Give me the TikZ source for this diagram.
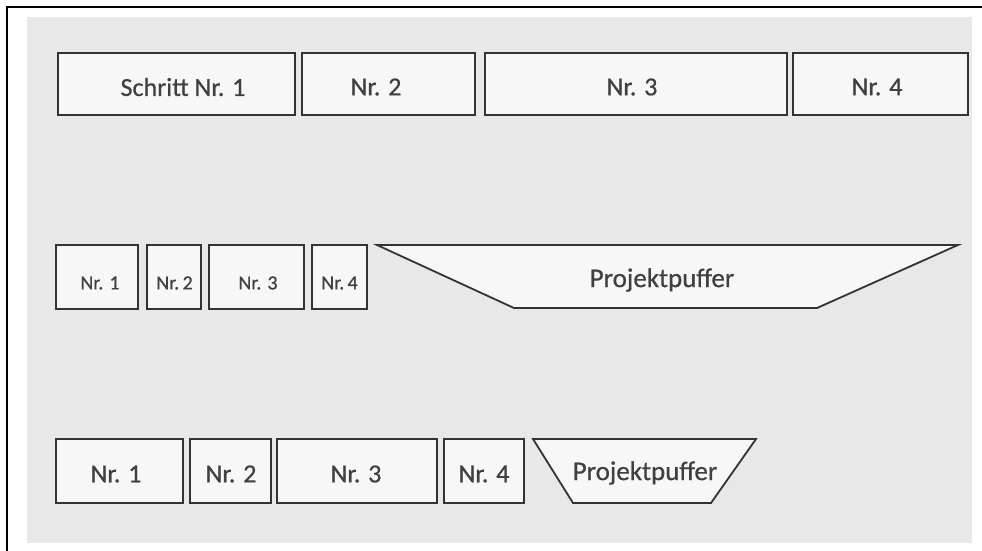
\documentclass[tikz,border=0pt]{standalone}
\usepackage{fontspec}
\setmainfont[FakeBold=0.6]{Carlito}
\definecolor{bg}{HTML}{E8E8E8}
\definecolor{boxfill}{HTML}{F7F7F7}
\definecolor{ink}{HTML}{333333}
\definecolor{txt}{HTML}{404040}
\begin{document}
\begin{tikzpicture}[x=1pt,y=-1pt,
  stepbox/.style={draw=ink, line width=1.8pt, fill=boxfill, inner sep=0pt, text=txt},
  big/.style={font=\fontsize{26}{28}\selectfont},
  small/.style={font=\fontsize{20}{22}\selectfont},
  lbl/.style={text=txt, inner sep=0pt},
  buffer/.style={draw=ink, line width=1.8pt, fill=boxfill, line join=miter},
  btext/.style={text=txt, inner sep=0pt, font=\fontsize{27}{29}\selectfont}]
\useasboundingbox (0,0) rectangle (982,551);
% frame and background
\fill[bg] (27,17) rectangle (972,543);
\draw[black, line width=2pt] (7,551) -- (7,7) -- (982,7);
% row 1
\node[stepbox, minimum width=237pt, minimum height=62pt] (s1) at (176.5,84) {};
\node[stepbox, minimum width=173pt, minimum height=62pt] (s2) at (388.5,84) {};
\node[stepbox, minimum width=302pt, minimum height=62pt] (s3) at (636,84) {};
\node[stepbox, minimum width=175pt, minimum height=62pt] (s4) at (880.5,84) {};
\node[lbl, big] (t1) at (183,87) {Schritt Nr. 1};
\node[lbl, big] (t2) at (376,87) {Nr. 2};
\node[lbl, big] (t3) at (632,87) {Nr. 3};
\node[lbl, big] (t4) at (877,87) {Nr. 4};
% row 2
\node[stepbox, minimum width=82pt, minimum height=64pt] (a1) at (97,277) {};
\node[stepbox, minimum width=54pt, minimum height=64pt] (a2) at (174,277) {};
\node[stepbox, minimum width=95pt, minimum height=64pt] (a3) at (256.5,277) {};
\node[stepbox, minimum width=55pt, minimum height=64pt] (a4) at (339.5,277) {};
\node[lbl, small] (u1) at (100,283) {Nr. 1};
\node[lbl, small] (u2) at (174.5,283) {Nr.\,2};
\node[lbl, small] (u3) at (258,283) {Nr. 3};
\node[lbl, small] (u4) at (339.5,283) {Nr.\,4};
\draw[buffer] (377,245) -- (958,245) -- (817,308) -- (514,308) -- cycle;
\node[btext] (pa) at (662,280) {Projektpuffer};
% row 3
\node[stepbox, minimum width=127pt, minimum height=64pt] (b1) at (119.5,471) {};
\node[stepbox, minimum width=81pt, minimum height=64pt] (b2) at (230.5,471) {};
\node[stepbox, minimum width=160pt, minimum height=64pt] (b3) at (357,471) {};
\node[stepbox, minimum width=80pt, minimum height=64pt] (b4) at (484,471) {};
\node[lbl, big] (v1) at (116,474) {Nr. 1};
\node[lbl, big] (v2) at (231,474) {Nr. 2};
\node[lbl, big] (v3) at (356,474) {Nr. 3};
\node[lbl, big] (v4) at (484,474) {Nr. 4};
\draw[buffer] (533,439) -- (756,439) -- (711,503) -- (573,503) -- cycle;
\node[btext] (pb) at (645,473) {Projektpuffer};
\end{tikzpicture}
\end{document}
